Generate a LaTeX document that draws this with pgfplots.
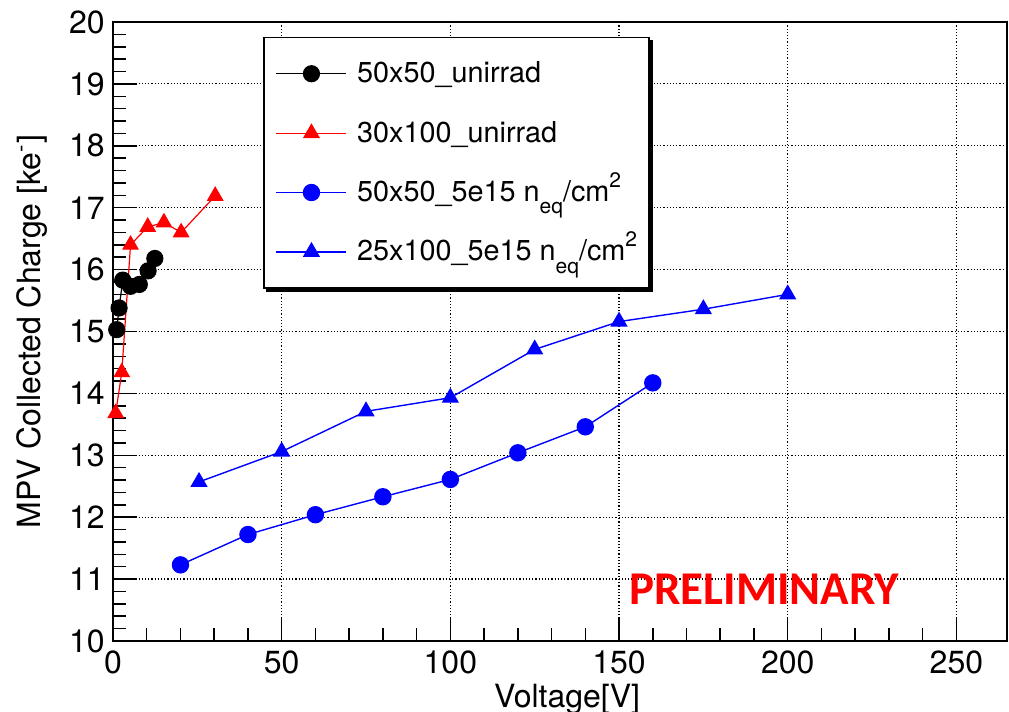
\documentclass[border=0pt]{standalone}
\usepackage{fontspec}
\setmainfont{TeX Gyre Heros}
\newfontfamily\prelimfont{Carlito}
\usepackage{pgfplots}
\pgfplotsset{compat=1.18}
\pgfdeclarelayer{background}
\pgfsetlayers{background,main}
\newcommand{\neqcm}{n\raisebox{-0.42em}{\fontsize{10.5}{10.5}\selectfont eq}/cm\raisebox{0.5em}{\fontsize{10.5}{10.5}\selectfont 2}}
\begin{document}
\begin{tikzpicture}
\useasboundingbox (0,0) rectangle (504.5pt,356pt);
\begin{axis}[
  at={(56.5pt,35.5pt)}, anchor=south west,
  scale only axis, width=447pt, height=309.5pt,
  xmin=0, xmax=265, ymin=10, ymax=20,
  xtick={0,50,...,250}, ytick={10,11,...,20},
  minor x tick num=4, minor y tick num=4,
  tick pos=left, tick align=inside,
  major tick length=12pt, minor tick length=6.5pt,
  every tick/.style={black, line width=0.75pt},
  axis line style={line width=1pt},
  grid=major,
  major grid style={black, line width=0.6pt, dash pattern=on 0.6pt off 1pt},
  font=\fontsize{16}{19}\selectfont,
  tick label style={font=\fontsize{16}{19}\selectfont},
  /pgf/number format/assume math mode=true,
  xticklabel style={inner sep=0pt, yshift=-4.5pt},
  yticklabel style={inner sep=0pt, xshift=-4pt},
  xlabel={Voltage[V]},
  xlabel style={at={(axis description cs:0.508,-0.108)}, anchor=base},
  ylabel={MPV Collected Charge [ke\textsuperscript{-}]},
  ylabel style={at={(axis description cs:-0.0906,0.5)}, anchor=center},
  legend cell align=left,
  legend style={name=leg, at={(axis description cs:0.1678,0.9758)}, anchor=north west,
    draw=black, line width=0.75pt, fill=white,
    inner xsep=6pt, inner ysep=7pt, row sep=7.7pt, column sep=5pt,
    font=\fontsize{14.4}{17}\selectfont,
    nodes={inner xsep=0pt, inner ysep=2pt, text height=13.5pt, text depth=4.5pt}},
  legend image code/.code={\draw[mark repeat=2,mark phase=2,#1] plot coordinates {(0pt,0pt) (17.5pt,0pt) (35pt,0pt)};},
]
\addplot[black, line width=0.6pt, mark=*, mark size=4pt, mark options={solid, fill=black}] coordinates {
(1.1,15.03) (1.8,15.38) (2.9,15.83) (5.2,15.73) (7.8,15.76) (10.4,15.98) (12.4,16.18)};
\addlegendentry{50x50\_unirrad}
\addplot[red, line width=0.6pt, mark=triangle*, mark size=4.3pt, mark options={solid, fill=red}] coordinates {
(0.8,13.68) (2.6,14.34) (5.2,16.40) (10.3,16.69) (15.1,16.76) (20.2,16.60) (30.3,17.19)};
\addlegendentry{30x100\_unirrad}
\addplot[blue, line width=0.7pt, mark=*, mark size=4pt, mark options={solid, fill=blue}] coordinates {
(20,11.23) (40,11.72) (60,12.04) (80,12.33) (100,12.61) (120,13.04) (140,13.46) (160,14.17)};
\addlegendentry{50x50\_5e15 \neqcm}
\addplot[blue, line width=0.7pt, mark=triangle*, mark size=4.3pt, mark options={solid, fill=blue}] coordinates {
(25.5,12.57) (50,13.06) (75,13.71) (100,13.93) (125,14.71) (150,15.16) (175,15.36) (200,15.60)};
\addlegendentry{25x100\_5e15 \neqcm}
\node[anchor=base, text=red, font=\prelimfont\bfseries\fontsize{23.5}{23.5}\selectfont] at (axis cs:193,10.583) {PRELIMINARY};
\end{axis}
\begin{pgfonlayer}{background}
\fill[black] ([shift={(1.6pt,-1.6pt)}]leg.south west) rectangle ([shift={(1.6pt,-1.6pt)}]leg.north east);
\end{pgfonlayer}
\end{tikzpicture}
\end{document}
